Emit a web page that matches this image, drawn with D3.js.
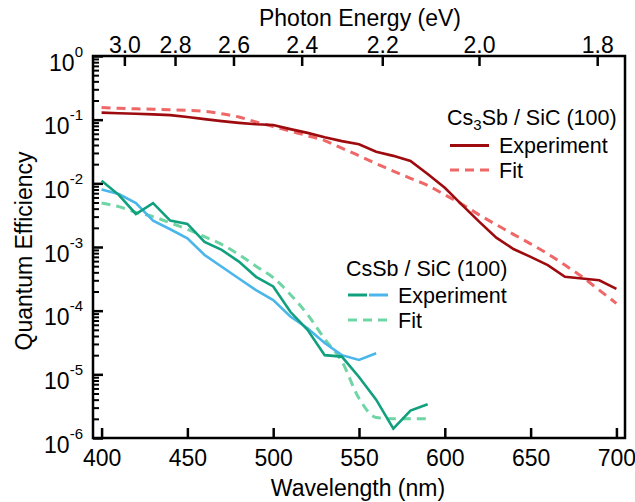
<!DOCTYPE html>
<html>
<head>
<meta charset="utf-8">
<script src="https://cdn.jsdelivr.net/npm/d3@7.9.0/dist/d3.min.js"></script>
<style>
  body { margin: 0; background: #fff; }
  svg { font-family: "Liberation Sans", Arial, sans-serif; }
</style>
</head>
<body>
<svg id="chart" width="635" height="502"></svg>
<script>
// ---- data ----
const cs3sbWl = [400, 410, 420, 430, 440, 450, 460, 470, 480, 490, 500, 510, 520, 530, 540, 550,
                 560, 570, 580, 590, 600, 610, 620, 630, 640, 650, 660, 670, 680, 690, 700];
const cs3sbExp = [0.129, 0.126, 0.124, 0.121, 0.118, 0.110, 0.102, 0.095, 0.089, 0.0845, 0.0824,
                  0.071, 0.062, 0.053, 0.046, 0.041, 0.0314, 0.027, 0.0224, 0.014, 0.0085, 0.0046,
                  0.0025, 0.0014, 0.00093, 0.00070, 0.00052, 0.00034, 0.00032, 0.00030, 0.00022];
const cs3sbFit = [0.155, 0.151, 0.148, 0.146, 0.143, 0.140, 0.135, 0.124, 0.110, 0.092, 0.078,
                  0.066, 0.056, 0.047, 0.0356, 0.0272, 0.0204, 0.0156, 0.0120, 0.0093, 0.0066,
                  0.0047, 0.0032, 0.00224, 0.00158, 0.00112, 0.00078, 0.00052, 0.00034, 0.00021, 0.00013];

const cssbWl = [400, 410, 420, 430, 440, 450, 460, 470, 480, 490, 500, 510, 520, 530, 540, 550,
                560, 570, 580, 590];
const cssbExpGreen = [0.011, 0.0066, 0.0033, 0.0049, 0.0026, 0.0023, 0.0012, 0.00090, 0.00059,
                      0.00034, 0.00024, 0.000096, 0.000050, 0.000020, 0.000019, 0.0000091,
                      0.0000040, 0.0000014, 0.0000027, 0.0000034];
const cssbBlueWl = [400, 410, 420, 430, 440, 450, 460, 470, 480, 490, 500, 510, 520, 530, 540, 550, 560];
const cssbExpBlue = [0.0080, 0.0068, 0.0049, 0.0026, 0.0019, 0.00137, 0.00075, 0.00049, 0.00032,
                     0.00021, 0.000147, 0.000081, 0.000053, 0.000031, 0.000020, 0.0000168, 0.0000214];
const cssbFit = [0.0049, 0.0043, 0.0035, 0.0030, 0.0024, 0.0019, 0.00145, 0.0011, 0.00076, 0.00050,
                 0.00033, 0.00018, 0.000087, 0.000036, 0.000016, 0.0000042, 0.0000021, 0.0000020,
                 0.0000020, 0.0000020];

const xTicks = [400, 450, 500, 550, 600, 650, 700];
const yMajor = [1, 1e-1, 1e-2, 1e-3, 1e-4, 1e-5, 1e-6];
const yExponents = ["0", "-1", "-2", "-3", "-4", "-5", "-6"];
const energyTicks = [3.0, 2.8, 2.6, 2.4, 2.2, 2.0, 1.8];
const energyLabels = ["3.0", "2.8", "2.6", "2.4", "2.2", "2.0", "1.8"];

const colors = {
  cs3sbExp: "#9e0b0f",
  cs3sbFit: "#ef6767",
  green: "#11a07e",
  blue: "#4ab6ea",
  greenFit: "#6fd5a4"
};

// ---- layout ----
const svg = d3.select("#chart");
const m = { left: 93, right: 625, top: 56, bottom: 438 };
const fontSize = 23;

const x = d3.scaleLinear().domain([395, 705]).range([m.left, m.right]);
const y = d3.scaleLog().domain([1e-6, 1]).range([m.bottom, m.top]);

const toSeries = (wl, vals) => wl.map((w, i) => ({ w, v: vals[i] }));
const line = d3.line().x(d => x(d.w)).y(d => y(d.v));
const smooth = d3.line().x(d => x(d.w)).y(d => y(d.v)).curve(d3.curveMonotoneX);

// ---- axes ----
// minor log ticks (inward)
const yMinor = [];
yMajor.slice(1).forEach(v => { for (let k = 2; k <= 9; k++) yMinor.push(v * k); });

svg.append("g")
  .attr("transform", `translate(${m.left},0)`)
  .call(d3.axisLeft(y).tickValues(yMinor).tickSize(-6).tickFormat(""))
  .call(g => g.select(".domain").remove())
  .selectAll("line").attr("stroke", "#000").attr("stroke-width", 2);

const yAxis = svg.append("g")
  .attr("transform", `translate(${m.left},0)`)
  .call(d3.axisLeft(y).tickValues(yMajor).tickSize(-10).tickPadding(10).tickFormat(""))
  .call(g => g.select(".domain").remove());
yAxis.selectAll("line").attr("stroke", "#000").attr("stroke-width", 2.5);
yAxis.selectAll(".tick text").each(function(d, i) {
  const t = d3.select(this)
    .attr("font-size", fontSize)
    .attr("fill", "#000")
    .attr("dy", "0.62em")
    .attr("text-anchor", "end");
  t.append("tspan").text("10");
  t.append("tspan").attr("font-size", 15).attr("dy", "-0.95em").text(yExponents[i]);
});

const xAxis = svg.append("g")
  .attr("transform", `translate(0,${m.bottom})`)
  .call(d3.axisBottom(x).tickValues(xTicks).tickSize(-10).tickPadding(12).tickFormat(d3.format("d")))
  .call(g => g.select(".domain").remove());
xAxis.selectAll("line").attr("stroke", "#000").attr("stroke-width", 2.5);
xAxis.selectAll("text").attr("font-size", fontSize).attr("fill", "#000");

// top axis: photon energy (eV) at hc / E
const hc = 1239.84;
const topAxis = svg.append("g")
  .attr("transform", `translate(0,${m.top})`)
  .call(d3.axisTop(x).tickValues(energyTicks.map(e => hc / e)).tickSize(-10).tickPadding(3)
    .tickFormat((d, i) => energyLabels[i]))
  .call(g => g.select(".domain").remove());
topAxis.selectAll("line").attr("stroke", "#000").attr("stroke-width", 2.5);
topAxis.selectAll("text").attr("font-size", fontSize).attr("fill", "#000");

// frame
svg.append("rect")
  .attr("x", m.left).attr("y", m.top)
  .attr("width", m.right - m.left).attr("height", m.bottom - m.top)
  .attr("fill", "none").attr("stroke", "#000").attr("stroke-width", 2.5);

// titles
svg.append("text").attr("x", 360).attr("y", 26).attr("text-anchor", "middle")
  .attr("font-size", fontSize).text("Photon Energy (eV)");
svg.append("text").attr("x", 358).attr("y", 496).attr("text-anchor", "middle")
  .attr("font-size", fontSize).text("Wavelength (nm)");
svg.append("text")
  .attr("transform", `translate(32,${(m.top + m.bottom) / 2 + 4}) rotate(-90)`)
  .attr("text-anchor", "middle")
  .attr("font-size", fontSize).text("Quantum Efficiency");

// ---- series ----
const plot = svg.append("g");

plot.append("path").datum(toSeries(cs3sbWl, cs3sbFit))
  .attr("d", smooth).attr("fill", "none")
  .attr("stroke", colors.cs3sbFit).attr("stroke-width", 3).attr("stroke-dasharray", "9,6");
plot.append("path").datum(toSeries(cs3sbWl, cs3sbExp))
  .attr("d", line).attr("fill", "none")
  .attr("stroke", colors.cs3sbExp).attr("stroke-width", 2.6);

plot.append("path").datum(toSeries(cssbWl, cssbFit))
  .attr("d", smooth).attr("fill", "none")
  .attr("stroke", colors.greenFit).attr("stroke-width", 3).attr("stroke-dasharray", "9,6");
plot.append("path").datum(toSeries(cssbBlueWl, cssbExpBlue))
  .attr("d", line).attr("fill", "none")
  .attr("stroke", colors.blue).attr("stroke-width", 2.6);
plot.append("path").datum(toSeries(cssbWl, cssbExpGreen))
  .attr("d", line).attr("fill", "none")
  .attr("stroke", colors.green).attr("stroke-width", 2.6);

// ---- legends ----
const legendFont = 21.5;

// Cs3Sb legend
const l1 = svg.append("g");
const t1 = l1.append("text").attr("x", 447).attr("y", 125).attr("font-size", legendFont);
t1.append("tspan").text("Cs");
t1.append("tspan").attr("font-size", 15).attr("dy", 5).text("3");
t1.append("tspan").attr("dy", -5).text("Sb / SiC (100)");
l1.append("line").attr("x1", 450).attr("x2", 489).attr("y1", 145.5).attr("y2", 145.5)
  .attr("stroke", colors.cs3sbExp).attr("stroke-width", 3);
l1.append("text").attr("x", 499).attr("y", 153).attr("font-size", legendFont).text("Experiment");
l1.append("line").attr("x1", 450).attr("x2", 489).attr("y1", 170).attr("y2", 170)
  .attr("stroke", colors.cs3sbFit).attr("stroke-width", 3).attr("stroke-dasharray", "9,6");
l1.append("text").attr("x", 499).attr("y", 178).attr("font-size", legendFont).text("Fit");

// CsSb legend
const l2 = svg.append("g");
l2.append("text").attr("x", 346).attr("y", 276).attr("font-size", legendFont).text("CsSb / SiC (100)");
l2.append("line").attr("x1", 348).attr("x2", 367).attr("y1", 295).attr("y2", 295)
  .attr("stroke", colors.green).attr("stroke-width", 3);
l2.append("line").attr("x1", 369).attr("x2", 388).attr("y1", 295).attr("y2", 295)
  .attr("stroke", colors.blue).attr("stroke-width", 3);
l2.append("text").attr("x", 398).attr("y", 303).attr("font-size", legendFont).text("Experiment");
l2.append("line").attr("x1", 348).attr("x2", 388).attr("y1", 320).attr("y2", 320)
  .attr("stroke", colors.greenFit).attr("stroke-width", 3).attr("stroke-dasharray", "9,6");
l2.append("text").attr("x", 398).attr("y", 328).attr("font-size", legendFont).text("Fit");
</script>
</body>
</html>
